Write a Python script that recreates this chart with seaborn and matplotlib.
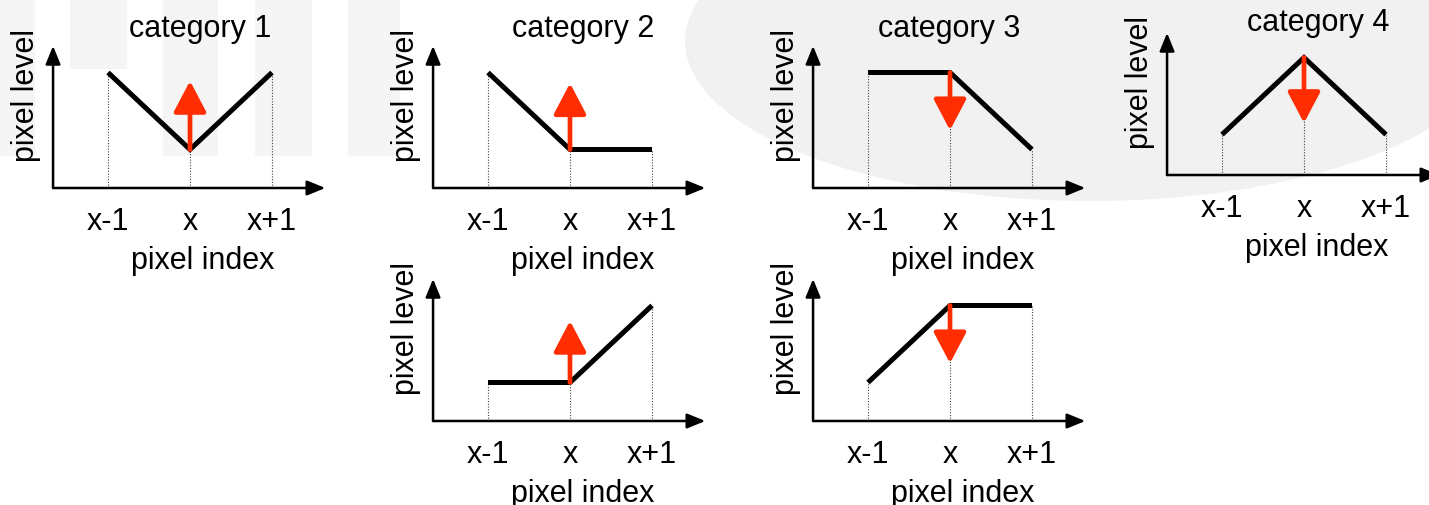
import matplotlib
matplotlib.use("Agg")
import matplotlib.pyplot as plt
import seaborn as sns
from matplotlib.patches import Rectangle, Ellipse

# ---------------- data ----------------
positions = [-1, 0, 1]
tick_labels = ["x-1", "x", "x+1"]
titles = ["category 1", "category 2", "category 3", "category 4", "", ""]
cat1_levels = [3, 1, 3]
cat2_levels = [3, 1, 1]
cat3_levels = [3, 3, 1]
cat4_levels = [1.05, 3.05, 1.05]
cat2b_levels = [1, 1, 3]
cat3b_levels = [1, 3, 3]
panel_levels = [cat1_levels, cat2_levels, cat3_levels, cat4_levels, cat2b_levels, cat3b_levels]
arrow_tips = [2.78, 2.72, 1.5, 1.35, 2.6, 1.5]
x_label = "pixel index"
y_label = "pixel level"

# ---------------- layout (pixels) ----------------
W, H = 1429, 506
U, V = 82.0, 38.5               # px per data unit
XLIM = (-1.67, 1.65)
YLIM = (0.0, 3.69)
# (pixel x of center tick, pixel y of x-axis)
anchors = [(190, 189), (570, 189), (950, 189), (1304, 176), (570, 422), (950, 422)]
title_pos = [(0.54, 1.07), (0.55, 1.07), (0.50, 1.07), (0.555, 1.02), None, None]
FS = 22
RED = "#ff2d00"

sns.set_theme(style="white")
plt.rcParams["font.family"] = ["Liberation Sans", "DejaVu Sans"]

fig = plt.figure(figsize=(W / 100, H / 100), dpi=100)
fig.patch.set_facecolor("white")

# faint watermark in background
def fx(p):
    return p / W

def fy(p):
    return 1 - p / H

for x0, x1, y1 in [(0, 35, 157), (70, 127, 70), (163, 218, 157), (255, 312, 157), (348, 400, 157)]:
    fig.patches.append(Rectangle((fx(x0), fy(y1)), fx(x1 - x0), y1 / H,
                                 transform=fig.transFigure, facecolor="#f5f5f5",
                                 edgecolor="none", zorder=-10))
fig.patches.append(Ellipse((fx(1090), fy(42)), fx(810), 320 / H, transform=fig.transFigure,
                           facecolor="#f1f1f1", edgecolor="none", zorder=-10))

for i, (levels, (t0, yb)) in enumerate(zip(panel_levels, anchors)):
    left = (t0 + XLIM[0] * U) / W
    bottom = (H - yb) / H
    width = (XLIM[1] - XLIM[0]) * U / W
    height = (YLIM[1] - YLIM[0]) * V / H
    ax = fig.add_axes([left, bottom, width, height])
    ax.set_zorder(1)
    ax.patch.set_visible(False)
    ax.set_xlim(*XLIM)
    ax.set_ylim(*YLIM)
    for s in ax.spines.values():
        s.set_visible(False)
    ax.grid(False)

    # axes arrows
    for end in [(0, 1), (1, 0)]:
        ax.annotate("", xy=end, xytext=(0, 0), xycoords="axes fraction",
                    textcoords="axes fraction", annotation_clip=False,
                    arrowprops=dict(arrowstyle="-|>,head_length=1.1,head_width=0.45",
                                    mutation_scale=10, lw=1.8, color="black",
                                    shrinkA=0, shrinkB=0))

    # dotted guides
    ax.vlines(positions, 0, levels, colors="#444444", linestyles=(0, (1, 1.5)), lw=0.8, zorder=1)

    # the pixel profile
    sns.lineplot(x=positions, y=levels, ax=ax, color="black", lw=3.6,
                 solid_joinstyle="miter", solid_capstyle="butt", zorder=3)

    # red correction arrow
    ax.annotate("", xy=(0, arrow_tips[i]), xytext=(0, levels[1]), xycoords="data",
                arrowprops=dict(arrowstyle="-|>,head_length=0.95,head_width=0.5",
                                mutation_scale=20, lw=3.4, color=RED,
                                shrinkA=0, shrinkB=0), zorder=4)

    ax.set_xticks(positions, tick_labels)
    ax.set_yticks([])
    ax.tick_params(axis="x", length=0, pad=13, labelsize=FS, labelcolor="black")

    ax.set_xlabel(x_label, fontsize=FS, color="black")
    ax.xaxis.set_label_coords(0.55, -0.40)
    ax.set_ylabel(y_label, fontsize=FS, color="black")
    ax.yaxis.set_label_coords(-0.045, 0.655)

    if titles[i]:
        tx, ty = title_pos[i]
        ax.text(tx, ty, titles[i], transform=ax.transAxes, ha="center", va="baseline",
                fontsize=FS, color="black")

fig.savefig("out.png", dpi=100, facecolor="white")
